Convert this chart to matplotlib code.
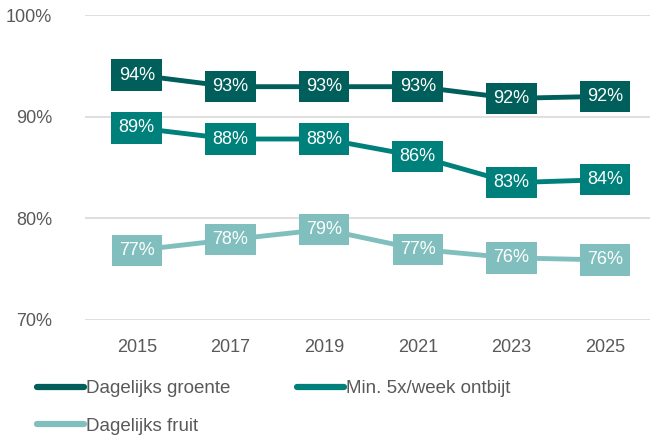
import matplotlib.pyplot as plt
from matplotlib.ticker import FuncFormatter

plt.rcParams['font.family'] = ['Liberation Sans', 'DejaVu Sans']

years = ['2015', '2017', '2019', '2021', '2023', '2025']
groente = [94.1, 92.95, 92.95, 92.95, 91.8, 92.0]
ontbijt = [88.9, 87.8, 87.8, 86.1, 83.5, 83.8]
fruit = [76.85, 77.9, 78.9, 76.95, 76.1, 75.9]
groente_lbl = [94, 93, 93, 93, 92, 92]
ontbijt_lbl = [89, 88, 88, 86, 83, 84]
fruit_lbl = [77, 78, 79, 77, 76, 76]

series = [
    ('Dagelijks groente', groente, groente_lbl, '#005F5A'),
    ('Min. 5x/week ontbijt', ontbijt, ontbijt_lbl, '#00807A'),
    ('Dagelijks fruit', fruit, fruit_lbl, '#80BFBE'),
]

txt = '#595959'

fig = plt.figure(figsize=(6.66, 4.43), dpi=100)
ax = fig.add_axes([0.128, 0.278, 0.848, 0.688])

x = range(len(years))
lines = []
for name, vals, lbls, col in series:
    ln, = ax.plot(x, vals, color=col, lw=3.5, solid_capstyle='round', label=name, zorder=2)
    lines.append(ln)
    for xi, v, l in zip(x, vals, lbls):
        ax.text(xi, v, f'{l}%', ha='center', va='center', color='white', fontsize=13,
                bbox=dict(boxstyle='square,pad=0.4', fc=col, ec='none'), zorder=3)

ax.set_ylim(70, 100)
ax.set_yticks([70, 80, 90, 100])
ax.yaxis.set_major_formatter(FuncFormatter(lambda v, p: f'{v:.0f}%'))
ax.set_xlim(-0.55, 5.48)
ax.set_xticks(list(x))
ax.set_xticklabels(years)
ax.grid(axis='y', color='#D9D9D9', lw=1.2, zorder=0)
for s in ax.spines.values():
    s.set_visible(False)
ax.tick_params(length=0, labelsize=13, colors=txt, pad=14)
ax.tick_params(axis='y', pad=24)

# column-major legend: groente, fruit | ontbijt
order = [lines[0], lines[2], lines[1]]
leg = fig.legend(order, [l.get_label() for l in order], loc='upper left',
                 bbox_to_anchor=(0.03, 0.18), ncol=2, frameon=False,
                 fontsize=13.5, handlelength=2.5, handletextpad=0.1, columnspacing=3.6,
                 labelspacing=1.1)
for t in leg.get_texts():
    t.set_color(txt)
for h in leg.legend_handles:
    h.set_linewidth(4.5)

fig.savefig('out.png', dpi=100)
